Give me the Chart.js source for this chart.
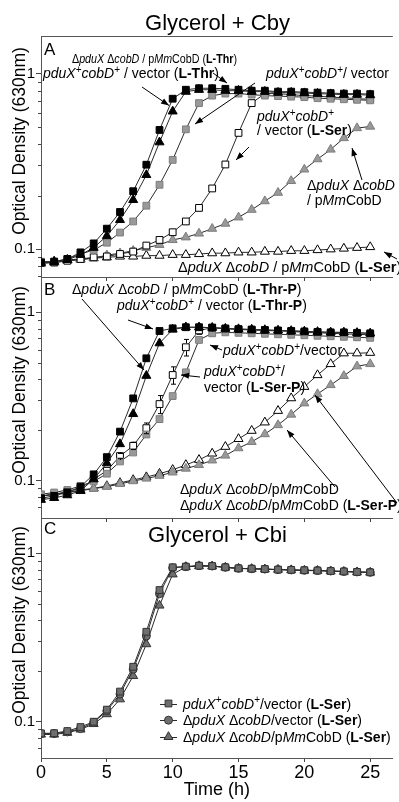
<!DOCTYPE html>
<html><head><meta charset="utf-8">
<script src="https://cdn.jsdelivr.net/npm/chart.js@4.4.0/dist/chart.umd.min.js"></script>
<style>
html,body{margin:0;padding:0;background:#fff;}
#wrap{position:relative;width:399px;height:802px;overflow:hidden;background:#fff;}
#wrap canvas{position:absolute;left:0;top:0;}
</style></head><body>
<div id="wrap">
<canvas id="cA" width="399" height="802"></canvas>
<canvas id="cB" width="399" height="802"></canvas>
<canvas id="cC" width="399" height="802"></canvas>
</div>
<script>
// ---------------- data ----------------
const hours = [0,1,2,3,4,5,6,7,8,9,10,11,12,13,14,15,16,17,18,19,20,21,22,23,24,25];
const xTickValues = [0,5,10,15,20,25];
const yTickValues = [0.1,1];
const yMinorTickValues = [0.07,0.08,0.09,0.2,0.3,0.4,0.5,0.6,0.7,0.8,0.9];
const yAxisTitle = 'Optical Density (630nm)';
const xAxisTitle = 'Time (h)';

// Panel A  (Glycerol + Cby)
const A_vecThr  = [0.084,0.085,0.088,0.096,0.108,0.131,0.163,0.214,0.303,0.478,0.72,0.81,0.826,0.826,0.82,0.81,0.80,0.80,0.79,0.79,0.785,0.78,0.775,0.77,0.77,0.765];
const A_mmThr   = [0.084,0.085,0.087,0.093,0.102,0.119,0.147,0.191,0.265,0.407,0.61,0.79,0.81,0.81,0.80,0.80,0.79,0.79,0.78,0.78,0.775,0.77,0.765,0.76,0.76,0.755];
const A_vec     = [0.085,0.085,0.088,0.094,0.099,0.109,0.1245,0.144,0.177,0.233,0.323,0.482,0.68,0.75,0.77,0.77,0.76,0.75,0.745,0.74,0.735,0.725,0.72,0.715,0.71,0.705];
const A_vecSer  = [0.084,0.084,0.086,0.088,0.090,0.091,0.094,0.097,0.105,0.113,0.125,0.144,0.172,0.222,0.304,0.46,0.68,0.77,0.77,0.76,0.75,0.745,0.735,0.73,0.72,0.715];
const A_mm      = [0.083,0.084,0.086,0.087,0.089,0.0925,0.095,0.098,0.102,0.106,0.113,0.117,0.123,0.131,0.140,0.152,0.168,0.188,0.210,0.245,0.285,0.326,0.37,0.43,0.49,0.50];
const A_mmSer   = [0.083,0.085,0.087,0.088,0.089,0.090,0.091,0.091,0.092,0.092,0.093,0.093,0.094,0.095,0.095,0.096,0.096,0.097,0.097,0.098,0.098,0.099,0.100,0.101,0.102,0.103];

// Panel B
const B_vecThrP = [0.0786,0.0812,0.0853,0.0921,0.109,0.138,0.1955,0.308,0.533,0.774,0.803,0.815,0.815,0.81,0.80,0.795,0.79,0.785,0.78,0.775,0.77,0.765,0.76,0.76,0.755,0.75];
const B_mmThrP  = [0.077,0.079,0.082,0.087,0.102,0.127,0.165,0.249,0.42,0.655,0.79,0.815,0.815,0.81,0.80,0.795,0.79,0.785,0.78,0.775,0.77,0.765,0.76,0.76,0.755,0.75];
const B_vec     = [0.083,0.085,0.088,0.093,0.099,0.110,0.130,0.147,0.188,0.232,0.318,0.44,0.685,0.75,0.76,0.755,0.75,0.745,0.74,0.735,0.73,0.725,0.72,0.715,0.71,0.705];
const B_vecSerP = [0.081,0.083,0.086,0.090,0.102,0.1145,0.140,0.161,0.205,0.285,0.424,0.62,0.78,0.81,0.80,0.79,0.785,0.78,0.775,0.77,0.76,0.755,0.75,0.745,0.74,0.735];
const B_vecSerPErr = [0,0,0,0,0,0,0.005,0.008,0.015,0.035,0.05,0.07,0.04,0.02,0,0,0,0,0,0,0,0,0,0,0,0];
const B_mm      = [0.081,0.083,0.085,0.087,0.0897,0.092,0.0957,0.0994,0.103,0.107,0.112,0.118,0.124,0.132,0.141,0.156,0.170,0.189,0.214,0.247,0.288,0.327,0.370,0.419,0.478,0.493];
const B_mmSerP  = [0.081,0.083,0.085,0.088,0.090,0.093,0.097,0.101,0.105,0.110,0.116,0.124,0.133,0.145,0.159,0.177,0.198,0.222,0.26,0.309,0.361,0.424,0.493,0.571,0.571,0.575];

// Panel C  (Glycerol + Cbi)
const C_vec     = [0.0853,0.0855,0.088,0.093,0.100,0.118,0.151,0.212,0.342,0.605,0.826,0.833,0.844,0.840,0.826,0.814,0.81,0.806,0.80,0.797,0.793,0.79,0.785,0.78,0.775,0.771];
const C_ddVec   = [0.085,0.085,0.087,0.091,0.099,0.116,0.146,0.205,0.323,0.575,0.82,0.833,0.844,0.840,0.826,0.814,0.81,0.806,0.80,0.797,0.793,0.79,0.785,0.78,0.775,0.771];
const C_ddMm    = [0.084,0.084,0.086,0.090,0.097,0.111,0.136,0.187,0.289,0.49,0.75,0.83,0.84,0.838,0.824,0.812,0.808,0.804,0.80,0.795,0.79,0.788,0.783,0.778,0.773,0.769];

const C_legend = [
  '{i:pduX}^+{i:cobD}^+/vector ({b:L-Ser})',
  'Δ{i:pduX} Δ{i:cobD}/vector ({b:L-Ser})',
  'Δ{i:pduX} Δ{i:cobD}/p{i:Mm}CobD ({b:L-Ser})'
];

// ---------------- helpers ----------------
const FONT = '"Liberation Sans", Arial, Helvetica, sans-serif';
Chart.defaults.font.family = FONT;
Chart.defaults.color = '#000';

function fontStr(st, size){
  return (st==='i'?'italic ':'') + (st==='b'?'bold ':'') + size + 'px ' + FONT;
}
function parseRich(s){
  const re = /\{([ib]):([^}]*)\}|\^(.)|([^{^]+)/g; let m; const out=[];
  while((m=re.exec(s))){
    if(m[1]) out.push({t:m[2],s:m[1]});
    else if(m[3]) out.push({t:m[3],s:'sup'});
    else out.push({t:m[4],s:'n'});
  }
  return out;
}
function richWidth(ctx, s, size){
  let w = 0;
  for(const seg of parseRich(s)){
    ctx.font = seg.s==='sup' ? fontStr('n', Math.round(size*0.68)) : fontStr(seg.s, size);
    w += ctx.measureText(seg.t).width;
  }
  return w;
}
function drawRich(ctx, s, x, y, size, fitWidth){
  ctx.save();
  ctx.translate(x, y);
  if(fitWidth){ const w = richWidth(ctx, s, size); ctx.scale(fitWidth / w, 1); }
  let cx = 0;
  ctx.textAlign = 'left'; ctx.textBaseline = 'alphabetic';
  for(const seg of parseRich(s)){
    if(seg.s==='sup'){
      ctx.font = fontStr('n', Math.round(size*0.68));
      ctx.fillText(seg.t, cx, -size*0.36);
    } else {
      ctx.font = fontStr(seg.s, size);
      ctx.fillText(seg.t, cx, 0);
    }
    cx += ctx.measureText(seg.t).width;
  }
  ctx.restore();
}
function arrow(ctx, x1, y1, x2, y2){
  ctx.beginPath(); ctx.moveTo(x1,y1); ctx.lineTo(x2,y2); ctx.stroke();
  const a = Math.atan2(y2-y1, x2-x1), L = 8, W = 3;
  ctx.beginPath();
  ctx.moveTo(x2, y2);
  ctx.lineTo(x2 - L*Math.cos(a) + W*Math.sin(a), y2 - L*Math.sin(a) - W*Math.cos(a));
  ctx.lineTo(x2 - L*Math.cos(a) - W*Math.sin(a), y2 - L*Math.sin(a) + W*Math.cos(a));
  ctx.closePath(); ctx.fill();
}

const LINE = '#2a2a2a';
const styles = {
  blackSq: {pointStyle:'rect', pointRadius:4.8, pointBackgroundColor:'#000', pointBorderColor:'#000'},
  blackTri:{pointStyle:'triangle', pointRadius:5.2, pointBackgroundColor:'#000', pointBorderColor:'#000'},
  graySq:  {pointStyle:'rect', pointRadius:4.8, pointBackgroundColor:'#999', pointBorderColor:'#7d7d7d'},
  openSq:  {pointStyle:'rect', pointRadius:4.8, pointBackgroundColor:'#fff', pointBorderColor:'#000'},
  grayTri: {pointStyle:'triangle', pointRadius:5.2, pointBackgroundColor:'#999', pointBorderColor:'#7d7d7d'},
  openTri: {pointStyle:'triangle', pointRadius:5.2, pointBackgroundColor:'#fff', pointBorderColor:'#000'},
  cSq:     {pointStyle:'rect', pointRadius:4.8, pointBackgroundColor:'#6e6e6e', pointBorderColor:'#333'},
  cCirc:   {pointStyle:'circle', pointRadius:4, pointBackgroundColor:'#6e6e6e', pointBorderColor:'#333'},
  cTri:    {pointStyle:'triangle', pointRadius:5.2, pointBackgroundColor:'#6e6e6e', pointBorderColor:'#333'}
};
function ds(label, arr, st, extra){
  return Object.assign({
    label, data: hours.map((h,i)=>({x:h, y:arr[i]})),
    borderColor: LINE, borderWidth: 1, fill:false, tension:0,
    pointBorderWidth: 1, pointHoverRadius: 0
  }, styles[st], extra||{});
}

const annotPlugin = {
  id: 'annot',
  afterDatasetsDraw(chart){
    const ctx = chart.ctx, ys = chart.scales.y;
    chart.data.datasets.forEach((d,i)=>{
      if(!d.errorBars) return;
      const meta = chart.getDatasetMeta(i);
      ctx.save(); ctx.strokeStyle = '#000'; ctx.lineWidth = 1;
      meta.data.forEach((p,j)=>{
        const e = d.errorBars[j]; if(!e) return;
        const v = d.data[j].y, x = Math.round(p.x)+0.5;
        const yt = ys.getPixelForValue(v+e), yb = ys.getPixelForValue(v-e);
        ctx.beginPath();
        ctx.moveTo(x, p.y-4); ctx.lineTo(x, yt); ctx.moveTo(x-2.5, yt); ctx.lineTo(x+2.5, yt);
        ctx.moveTo(x, p.y+4); ctx.lineTo(x, yb); ctx.moveTo(x-2.5, yb); ctx.lineTo(x+2.5, yb);
        ctx.stroke();
      });
      ctx.restore();
    });
  },
  afterDraw(chart, args, o){
    const ctx = chart.ctx, ca = chart.chartArea, ys = chart.scales.y;
    ctx.save();
    // frame top
    ctx.strokeStyle = '#555'; ctx.lineWidth = 1;
    ctx.beginPath(); ctx.moveTo(ca.left, Math.round(ca.top)+0.5); ctx.lineTo(ca.right, Math.round(ca.top)+0.5); ctx.stroke();
    // minor y ticks
    ctx.strokeStyle = '#444';
    yMinorTickValues.forEach(v=>{
      if(v<=ys.min || v>=ys.max) return;
      const py = Math.round(ys.getPixelForValue(v))+0.5;
      ctx.beginPath(); ctx.moveTo(ca.left-3, py); ctx.lineTo(ca.left, py); ctx.stroke();
    });
    // y axis title
    ctx.fillStyle = '#000';
    ctx.save(); ctx.translate(o.yTitle[0], o.yTitle[1]); ctx.rotate(-Math.PI/2);
    ctx.font = '17.5px ' + FONT; ctx.textAlign='center'; ctx.textBaseline='middle';
    ctx.fillText(yAxisTitle, 0, 0); ctx.restore();
    // panel letter
    ctx.font = '17px ' + FONT; ctx.textAlign='left'; ctx.textBaseline='alphabetic';
    ctx.fillText(o.letter[0], o.letter[1], o.letter[2]);
    // panel title
    if(o.title){
      ctx.font = '22px ' + FONT; ctx.textAlign='center';
      ctx.fillText(o.title[0], o.title[1], o.title[2]);
    }
    // rich annotations
    (o.texts||[]).forEach(t=> drawRich(ctx, t[0], t[1], t[2], t[3]||14, t[4]));
    ctx.strokeStyle = '#000'; ctx.fillStyle = '#000'; ctx.lineWidth = 1;
    (o.arrows||[]).forEach(a=> arrow(ctx, a[0], a[1], a[2], a[3]));
    // legend
    if(o.legend){
      const L = o.legend;
      L.items.forEach((txt,k)=>{
        const d = chart.data.datasets[L.datasets[k]];
        const yy = L.y + k*L.dy;
        ctx.strokeStyle = LINE; ctx.lineWidth = 1;
        ctx.beginPath(); ctx.moveTo(L.x-8.5, Math.round(yy)+0.5); ctx.lineTo(L.x+8.5, Math.round(yy)+0.5); ctx.stroke();
        ctx.fillStyle = d.pointBackgroundColor; ctx.strokeStyle = d.pointBorderColor;
        Chart.helpers.drawPoint(ctx, {pointStyle:d.pointStyle, radius:d.pointRadius, rotation:0, borderWidth:1}, L.x, yy);
        ctx.fillStyle = '#000';
        drawRich(ctx, txt, L.x+14.5, yy+5, 14);
      });
    }
    ctx.restore();
  }
};

function makeChart(id, datasets, P){
  return new Chart(document.getElementById(id), {
    type:'line',
    data:{datasets},
    plugins:[annotPlugin],
    options:{
      responsive:false, animation:false, devicePixelRatio:1,
      events:[],
      layout:{padding:{top:P.top, bottom:P.bottom, left:0, right:0}},
      plugins:{legend:{display:false}, tooltip:{enabled:false}, title:{display:false}, annot:P.annot},
      scales:{
        x:{type:'linear', min:0, max:26.716, position:'bottom',
           afterBuildTicks:s=>{ s.ticks = xTickValues.map(v=>({value:v})); },
           afterFit:s=>{ s.height = P.xh; },
           grid:{drawOnChartArea:false, drawTicks:true, tickLength:4, tickColor:'#444', color:'#444'},
           border:{display:true, color:'#555', width:1},
           ticks:{display:P.showX, font:{size:18}, color:'#000', padding:0, maxRotation:0, autoSkip:false},
           title:{display:P.showX, text:xAxisTitle, font:{size:18}, color:'#000', padding:{top:0,bottom:1}}
        },
        y:{type:'logarithmic', min:P.ymin, max:P.ymax, position:'left',
           afterBuildTicks:s=>{ s.ticks = yTickValues.map(v=>({value:v})); },
           afterFit:s=>{ s.width = 41; },
           grid:{drawOnChartArea:false, drawTicks:true, tickLength:5, tickColor:'#444', color:'#444'},
           border:{display:true, color:'#555', width:1},
           ticks:{font:{size:15}, color:'#000', padding:1, callback:v=>String(v)}
        }
      }
    }
  });
}

// Panel A
makeChart('cA', [
  ds('pduX+cobD+ / vector (L-Thr)', A_vecThr, 'blackSq'),
  ds('ΔpduX ΔcobD / pMmCobD (L-Thr)', A_mmThr, 'blackTri'),
  ds('pduX+cobD+ / vector', A_vec, 'graySq'),
  ds('pduX+cobD+ / vector (L-Ser)', A_vecSer, 'openSq'),
  ds('ΔpduX ΔcobD / pMmCobD', A_mm, 'grayTri'),
  ds('ΔpduX ΔcobD / pMmCobD (L-Ser)', A_mmSer, 'openTri')
], {top:36, bottom:525, xh:0, showX:false, ymin:0.0695, ymax:1.639,
  annot:{
    yTitle:[20,141], letter:['A',44,55], title:['Glycerol + Cby',217.5,30],
    texts:[
      ['Δ{i:pduX} Δ{i:cobD} / p{i:Mm}CobD ({b:L-Thr})', 72, 63, 13.5, 165],
      ['{i:pduX}^+{i:cobD}^+ / vector ({b:L-Thr})', 43, 78],
      ['{i:pduX}^+{i:cobD}^+/ vector', 266, 78],
      ['{i:pduX}^+{i:cobD}^+', 257, 121],
      ['/ vector ({b:L-Ser})', 257, 135],
      ['Δ{i:pduX} Δ{i:cobD}', 307, 190],
      ['/ p{i:Mm}CobD', 307, 205],
      ['Δ{i:pduX} Δ{i:cobD} / p{i:Mm}CobD ({b:L-Ser})', 178, 272, 14.5]
    ],
    arrows:[[213,73,227,83],[142,87,169,105.5],[255,83,195,124],[249,147,236,160],[362,180,352,148],[397,259,384,252]]
  }});

// Panel B
makeChart('cB', [
  ds('ΔpduX ΔcobD / pMmCobD (L-Thr-P)', B_mmThrP, 'blackTri'),
  ds('pduX+cobD+ / vector (L-Thr-P)', B_vecThrP, 'blackSq'),
  ds('pduX+cobD+/vector', B_vec, 'graySq'),
  ds('pduX+cobD+/vector (L-Ser-P)', B_vecSerP, 'openSq', {errorBars:B_vecSerPErr}),
  ds('ΔpduX ΔcobD/pMmCobD', B_mm, 'grayTri'),
  ds('ΔpduX ΔcobD/pMmCobD (L-Ser-P)', B_mmSerP, 'openTri')
], {top:277, bottom:284, xh:0, showX:false, ymin:0.0600, ymax:1.62,
  annot:{
    yTitle:[20,380], letter:['B',44,295],
    texts:[
      ['Δ{i:pduX} Δ{i:cobD} / p{i:Mm}CobD ({b:L-Thr-P})', 72, 294],
      ['{i:pduX}^+{i:cobD}^+ / vector ({b:L-Thr-P})', 117, 310],
      ['{i:pduX}^+{i:cobD}^+/vector', 223, 355],
      ['{i:pduX}^+{i:cobD}^+/', 204, 376],
      ['vector ({b:L-Ser-P})', 204, 392],
      ['Δ{i:pduX} Δ{i:cobD}/p{i:Mm}CobD', 180, 494],
      ['Δ{i:pduX} Δ{i:cobD}/p{i:Mm}CobD ({b:L-Ser-P})', 180, 510]
    ],
    arrows:[[82,299,144,370],[128,320,153,329],[222,350,210,345],[200,377,181,375],[335,487,287,430],[397,503,315,395]]
  }});

// Panel C
makeChart('cC', [
  ds('pduX+cobD+/vector (L-Ser)', C_vec, 'cSq'),
  ds('ΔpduX ΔcobD/vector (L-Ser)', C_ddVec, 'cCirc'),
  ds('ΔpduX ΔcobD/pMmCobD (L-Ser)', C_ddMm, 'cTri')
], {top:518, bottom:0, xh:44, showX:true, ymin:0.0609, ymax:1.62,
  annot:{
    yTitle:[20,620], letter:['C',44,534], title:['Glycerol + Cbi',217.5,542],
    legend:{items:C_legend, datasets:[0,1,2], x:168.5, y:703.5, dy:16.7}
  }});
</script>
</body></html>
